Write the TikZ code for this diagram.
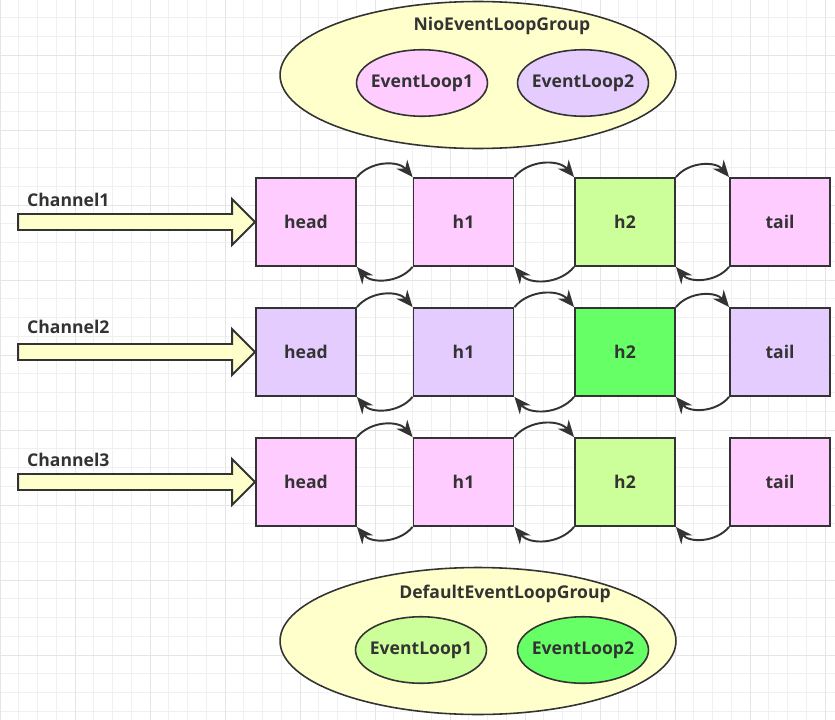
\documentclass[tikz,border=0pt]{standalone}
\usepackage{fontspec}
\setmainfont{Open Sans}
\usetikzlibrary{shapes.geometric,arrows.meta}
\definecolor{ink}{HTML}{333333}
\definecolor{paleyellow}{HTML}{FFFFCC}
\definecolor{pink}{HTML}{FFCCFF}
\definecolor{lavender}{HTML}{E5CCFF}
\definecolor{lightgreen}{HTML}{CCFF99}
\definecolor{brightgreen}{HTML}{66FF66}
\tikzset{
  every node/.style={font=\fontsize{10}{12}\selectfont\bfseries, text=ink},
  handler/.style={draw=ink, line width=1.1pt, minimum width=2cm, minimum height=1.76cm},
  group/.style={ellipse, draw=ink, line width=0.9pt, fill=paleyellow, inner sep=0pt, minimum width=7.92cm, minimum height=2.94cm},
  loop/.style={ellipse, draw=ink, line width=0.9pt, inner sep=0pt, minimum width=2.62cm, minimum height=1.33cm},
  link/.style={draw=ink, line width=1.1pt, -{Stealth[length=9.5pt,width=8pt]}},
  chan/.style={draw=ink, line width=1.1pt, fill=paleyellow, line join=miter}
}

\begin{document}
\begin{tikzpicture}[x=0.02cm,y=-0.02cm]
\useasboundingbox (0,0) rectangle (835,720);
\clip (0,0) rectangle (835,720);
\fill[white] (0,0) rectangle (835,720);
% grid
\foreach \i in {0,...,44} \draw[black!6, line width=0.5pt] ({\i*18.75},0) -- ({\i*18.75},720);
\foreach \j in {0,...,39} \draw[black!6, line width=0.5pt] (0,{-1.25+\j*18.75}) -- (835,{-1.25+\j*18.75});
\foreach \i in {0,...,11} \draw[black!10, line width=0.5pt] ({\i*75},0) -- ({\i*75},720);
\foreach \j in {0,...,10} \draw[black!10, line width=0.5pt] (0,{-20+\j*75}) -- (835,{-20+\j*75});

% NioEventLoopGroup
\node[group] (nio) at (478,75) {};
\node at (502,26) {NioEventLoopGroup};
\node[loop, fill=pink, label=center:EventLoop1] (nioloop1) at (422,83) {};
\node[loop, fill=lavender, label=center:EventLoop2] (nioloop2) at (583,83) {};

% Channel1
\node[handler, fill=pink] (head1) at (306,222) {head};
\node[handler, fill=pink] (hone1) at (463.5,222) {h1};
\node[handler, fill=lightgreen] (htwo1) at (625,222) {h2};
\node[handler, fill=pink] (tail1) at (780,222) {tail};
\node[anchor=west] (chlabel1) at (21,200) {Channel1};
\draw[chan] (head1.west) -- ++(-23,-23) -- ++(0,15) -- ++(-214,0) -- ++(0,16) -- ++(214,0) -- ++(0,15) -- cycle;
\draw[link] (head1.north east) to[bend left=50] (hone1.north west);
\draw[link] (hone1.south west) to[bend left=50] (head1.south east);
\draw[link] (hone1.north east) to[bend left=50] (htwo1.north west);
\draw[link] (htwo1.south west) to[bend left=50] (hone1.south east);
\draw[link] (htwo1.north east) to[bend left=50] (tail1.north west);
\draw[link] (tail1.south west) to[bend left=50] (htwo1.south east);

% Channel2
\node[handler, fill=lavender] (head2) at (306,352) {head};
\node[handler, fill=lavender] (hone2) at (463.5,352) {h1};
\node[handler, fill=brightgreen] (htwo2) at (625,352) {h2};
\node[handler, fill=lavender] (tail2) at (780,352) {tail};
\node[anchor=west] (chlabel2) at (21,327) {Channel2};
\draw[chan] (head2.west) -- ++(-23,-23) -- ++(0,15) -- ++(-214,0) -- ++(0,16) -- ++(214,0) -- ++(0,15) -- cycle;
\draw[link] (head2.north east) to[bend left=50] (hone2.north west);
\draw[link] (hone2.south west) to[bend left=50] (head2.south east);
\draw[link] (hone2.north east) to[bend left=50] (htwo2.north west);
\draw[link] (htwo2.south west) to[bend left=50] (hone2.south east);
\draw[link] (htwo2.north east) to[bend left=50] (tail2.north west);
\draw[link] (tail2.south west) to[bend left=50] (htwo2.south east);

% Channel3
\node[handler, fill=pink] (head3) at (306,482) {head};
\node[handler, fill=pink] (hone3) at (463.5,482) {h1};
\node[handler, fill=lightgreen] (htwo3) at (625,482) {h2};
\node[handler, fill=pink] (tail3) at (780,482) {tail};
\node[anchor=west] (chlabel3) at (21,460) {Channel3};
\draw[chan] (head3.west) -- ++(-23,-23) -- ++(0,15) -- ++(-214,0) -- ++(0,16) -- ++(214,0) -- ++(0,15) -- cycle;
\draw[link] (head3.north east) to[bend left=50] (hone3.north west);
\draw[link] (hone3.south west) to[bend left=50] (head3.south east);
\draw[link] (hone3.north east) to[bend left=50] (htwo3.north west);
\draw[link] (htwo3.south west) to[bend left=50] (hone3.south east);
\draw[link] (tail3.south west) to[bend left=50] (htwo3.south east);

% DefaultEventLoopGroup
\node[group] (default) at (478,641) {};
\node at (505,594) {DefaultEventLoopGroup};
\node[loop, fill=lightgreen, label=center:EventLoop1] (defloop1) at (421,650) {};
\node[loop, fill=brightgreen, label=center:EventLoop2] (defloop2) at (583,650) {};
\end{tikzpicture}
\end{document}
